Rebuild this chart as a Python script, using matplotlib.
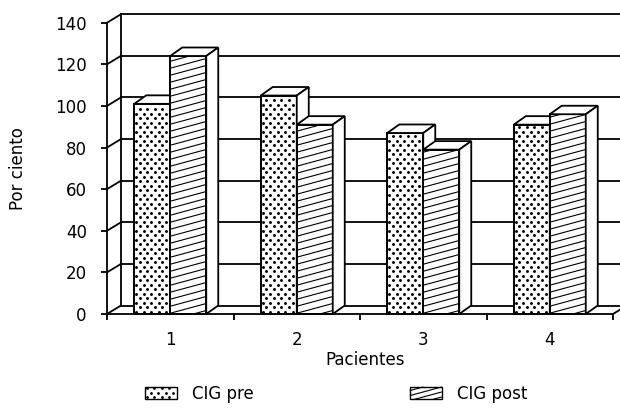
import matplotlib
matplotlib.use("Agg")
import matplotlib.pyplot as plt
import matplotlib.transforms as mtransforms
from matplotlib.patches import Polygon, Rectangle
from matplotlib.collections import LineCollection
from matplotlib.lines import Line2D
from matplotlib.legend_handler import HandlerBase
import numpy as np

# ---- data ----
categories = ["1", "2", "3", "4"]
cig_pre = [101, 105, 87, 91]
cig_post = [124, 91, 79, 96]
series_names = ["CIG pre", "CIG post"]
y_ticks = [0, 20, 40, 60, 80, 100, 120, 140]
x_label = "Pacientes"
y_label = "Por ciento"

# ---- figure ----
W, H, DPI = 620, 408, 100
plt.rcParams['font.family'] = ['DejaVu Sans']
FS = 12
LW = 1.3
fig = plt.figure(figsize=(W / DPI, H / DPI), dpi=DPI)
fig.patch.set_facecolor('white')

ax = fig.add_axes([107 / W, 1 - 314 / H, 506 / W, (314 - 22.7) / H])
n = len(categories)
xpos = np.arange(1, n + 1)
ax.set_xlim(0.5, n + 0.5)
ax.set_ylim(0, y_ticks[-1])
ax.patch.set_visible(False)
for s in ['top', 'right']:
    ax.spines[s].set_visible(False)
for s in ['left', 'bottom']:
    ax.spines[s].set_linewidth(LW)
    ax.spines[s].set_zorder(50)
ax.set_yticks(y_ticks)
ax.set_xticks(xpos)
ax.set_xticklabels(categories)
ax.set_xticks(np.arange(0.5, n + 1), minor=True)
ax.tick_params(axis='x', which='major', length=0, pad=12, labelsize=FS)
ax.tick_params(axis='x', which='minor', length=4.5, width=LW, direction='out')
ax.tick_params(axis='y', length=4.5, width=LW, pad=10, labelsize=FS)

WALL = (14, 8.5)   # depth offset of the back wall, pixels
BAR = (12, 8.5)    # depth offset of bars, pixels
ident = mtransforms.IdentityTransform()


def disp(x, y, off=(0, 0)):
    px, py = ax.transData.transform((x, y))
    return (px + off[0], py + off[1])


def seg(p, q, z=1, lw=LW):
    ln = Line2D([p[0], q[0]], [p[1], q[1]], transform=ident, color='black',
                lw=lw, zorder=z, clip_on=False, solid_capstyle='projecting')
    ax.add_artist(ln)


def hatch_lines(X0, Y0, X1, Y1, slope, step):
    """Shallow diagonal lines clipped to the box [X0,X1]x[Y0,Y1]."""
    h = Y1 - Y0
    segs = []
    c = -slope * (X1 - X0) + step * 0.5
    while c < h:
        xa = max(X0, X0 - c / slope)
        xb = min(X1, X0 + (h - c) / slope)
        if xb > xa:
            segs.append([(xa, Y0 + c + slope * (xa - X0)),
                         (xb, Y0 + c + slope * (xb - X0))])
        c += step
    return segs


def dot_grid(X0, Y0, X1, Y1, dx, dy, m=1.2):
    xs, ys = [], []
    r = 0
    y = Y0 + dy * 0.5
    while y < Y1 - m:
        x = X0 + (dx * 0.25 if r % 2 == 0 else dx * 0.75)
        while x < X1 - m:
            if x > X0 + m:
                xs.append(x)
                ys.append(y)
            x += dx
        y += dy
        r += 1
    return xs, ys


SLOPE, STEP = 0.27, 7.0
DOTX, DOTY = 7.5, 4.5

x_lo, x_hi = 0.5, n + 0.5
# back wall gridlines + floor back edge, left side wall
for v in y_ticks:
    seg(disp(x_lo, v, WALL), disp(x_hi, v, WALL))
    seg(disp(x_lo, v), disp(x_lo, v, WALL))
seg(disp(x_lo, 0, WALL), disp(x_lo, y_ticks[-1], WALL))
seg(disp(x_hi, 0), disp(x_hi, 0, WALL))

# ---- bars ----
bw = 36 / 126.5
z = 5
for i in range(n):
    for j, vals in enumerate([cig_pre, cig_post]):
        x0 = xpos[i] - bw + j * bw
        x1 = x0 + bw
        v = vals[i]
        rect = ax.bar(x0, v, width=bw, align='edge', facecolor='white',
                      edgecolor='black', linewidth=LW, zorder=z)[0]
        (X0, Y0) = disp(x0, 0)
        (X1, Y1) = disp(x1, v)
        if j == 0:
            xs, ys = dot_grid(X0, Y0, X1, Y1, DOTX, DOTY)
            ax.add_artist(Line2D(xs, ys, transform=ident, linestyle='none',
                                 marker='o', markersize=2.1, markeredgewidth=0,
                                 color='black', zorder=z + 0.1, clip_on=False))
        else:
            lc = LineCollection(hatch_lines(X0, Y0, X1, Y1, SLOPE, STEP),
                                colors='black', linewidths=0.8,
                                transform=ident, zorder=z + 0.1)
            ax.add_collection(lc, autolim=False)
            lc.set_clip_on(False)
        outline = Polygon([disp(x0, 0), disp(x1, 0), disp(x1, v), disp(x0, v)],
                          closed=True, fill=False, edgecolor='black', lw=LW,
                          transform=ident, zorder=z + 0.2, clip_on=False)
        ax.add_artist(outline)
        top = Polygon([disp(x0, v), disp(x1, v), disp(x1, v, BAR), disp(x0, v, BAR)],
                      closed=True, facecolor='white', edgecolor='black', lw=LW,
                      transform=ident, zorder=z + 0.3, clip_on=False)
        side = Polygon([disp(x1, 0), disp(x1, v), disp(x1, v, BAR), disp(x1, 0, BAR)],
                       closed=True, facecolor='white', edgecolor='black', lw=LW,
                       transform=ident, zorder=z + 0.3, clip_on=False)
        ax.add_artist(top)
        ax.add_artist(side)
        z += 1

# ---- labels ----
fig.text(365 / W, 1 - 360 / H, x_label, ha='center', va='center', fontsize=FS)
fig.text(18 / W, 1 - 169 / H, y_label, ha='center', va='center',
         rotation=90, fontsize=FS)


# ---- legend ----
class PatternHandler(HandlerBase):
    def __init__(self, kind):
        super().__init__()
        self.kind = kind

    def create_artists(self, legend, orig_handle, xdescent, ydescent,
                       width, height, fontsize, trans):
        k = 72.0 / DPI  # pixels -> points
        X0, Y0 = -xdescent, -ydescent
        X1, Y1 = X0 + width, Y0 + height
        arts = []
        bg = Rectangle((X0, Y0), width, height, facecolor='white',
                       edgecolor='none', transform=trans)
        arts.append(bg)
        if self.kind == 'dots':
            xs, ys = dot_grid(X0, Y0, X1, Y1, DOTX * k, DOTY * k, m=0.8 * k)
            arts.append(Line2D(xs, ys, transform=trans, linestyle='none',
                               marker='o', markersize=2.0, markeredgewidth=0,
                               color='black'))
        else:
            lc = LineCollection(hatch_lines(X0, Y0, X1, Y1, SLOPE, 5.0 * k),
                                colors='black', linewidths=0.8, transform=trans)
            arts.append(lc)
        fr = Rectangle((X0, Y0), width, height, facecolor='none',
                       edgecolor='black', lw=1.0, transform=trans)
        arts.append(fr)
        return arts


fs_px = FS * DPI / 72
h_pre = Rectangle((0, 0), 1, 1, label=series_names[0])
h_post = Rectangle((0, 0), 1, 1, label=series_names[1])
fig.legend([h_pre, h_post], series_names, loc='center left',
           bbox_to_anchor=(145 / W, 1 - 394 / H), ncol=2, frameon=False,
           fontsize=FS, handlelength=32 / fs_px, handleheight=13 / fs_px,
           handletextpad=15 / fs_px, columnspacing=156 / fs_px,
           borderpad=0, borderaxespad=0,
           handler_map={h_pre: PatternHandler('dots'),
                        h_post: PatternHandler('lines')})

fig.savefig('out.png', dpi=DPI, facecolor='white')
